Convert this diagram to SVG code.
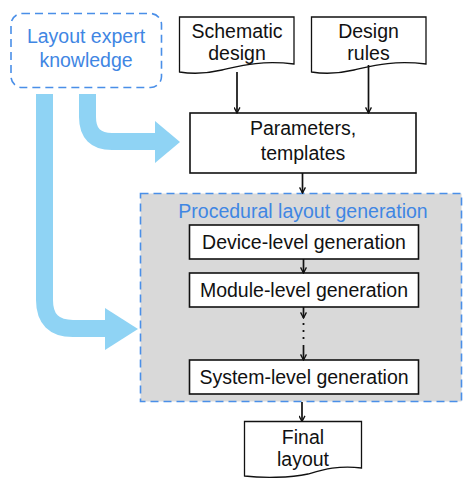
<svg xmlns="http://www.w3.org/2000/svg" width="463" height="478" viewBox="0 0 463 478">
<defs>
<style>
.t{font-family:"Liberation Sans",Arial,sans-serif;font-size:19.5px;fill:#111;text-anchor:middle}
.b{fill:#3f86e3}
.box{fill:#fff;stroke:#111;stroke-width:1.6}
.doc{fill:#fff;stroke:#111;stroke-width:1.3}
.dash{stroke:#4a8fe8;stroke-width:1.6;stroke-dasharray:8 5}
.con{stroke:#111;stroke-width:1.7;fill:none;marker-end:url(#ah)}
.big{stroke:#8fd3f4;stroke-width:17;fill:none}
.bighead{fill:#8fd3f4}
</style>
<marker id="ah" viewBox="0 0 10 10" refX="9" refY="5" markerWidth="7" markerHeight="7" orient="auto" markerUnits="userSpaceOnUse">
<path d="M1,0.8 L9,5 L1,9.2" fill="none" stroke="#111" stroke-width="1.9"/>
</marker>
</defs>

<g id="knowledge">
<rect x="11" y="13.5" width="150.5" height="74" rx="11" fill="#fff" class="dash"/>
<text class="t b" x="86" y="43">Layout expert</text>
<text class="t b" x="86" y="67">knowledge</text>
</g>

<g id="schematic">
<path class="doc" d="M179.5,17 H294 V64 C260,60 240,66 222,70 C205,74 192,74 179.5,72 Z"/>
<text class="t" x="237" y="38">Schematic</text>
<text class="t" x="237" y="60">design</text>
</g>

<g id="rules">
<path class="doc" d="M311.5,17 H426 V64 C392,60 372,66 354,70 C337,74 324,74 311.5,72 Z"/>
<text class="t" x="368.5" y="38">Design</text>
<text class="t" x="368.5" y="60">rules</text>
</g>

<g id="params">
<rect class="box" x="190" y="113" width="226" height="60"/>
<text class="t" x="303" y="135">Parameters,</text>
<text class="t" x="303" y="160">templates</text>
</g>

<g id="procedural">
<rect x="140.5" y="193.5" width="321" height="208" fill="#d9d9d9" class="dash"/>
<text class="t b" x="303" y="217.5">Procedural layout generation</text>
</g>

<g id="device">
<rect class="box" x="189.5" y="225" width="229" height="34"/>
<text class="t" x="304" y="248.5">Device-level generation</text>
</g>

<g id="module">
<rect class="box" x="189.5" y="273" width="229" height="34"/>
<text class="t" x="304" y="297">Module-level generation</text>
</g>

<g id="system">
<rect class="box" x="189.5" y="360" width="229" height="34"/>
<text class="t" x="304" y="384">System-level generation</text>
</g>

<g id="final">
<path class="doc" d="M244.5,421.5 H361.5 V468 C338,465 322,470 308,474 C290,478 262,478 244.5,476 Z"/>
<text class="t" x="303" y="443.5">Final</text>
<text class="t" x="303" y="466">layout</text>
</g>

<g id="connectors">
<line class="con" x1="237" y1="72" x2="237" y2="113"/>
<line class="con" x1="368.5" y1="65" x2="368.5" y2="113"/>
<line class="con" x1="302.5" y1="173" x2="302.5" y2="193"/>
<line class="con" x1="303.5" y1="259" x2="303.5" y2="273"/>
<line class="con" x1="303.5" y1="307" x2="303.5" y2="318"/>
<line x1="303.5" y1="323" x2="303.5" y2="341" stroke="#111" stroke-width="1.8" stroke-dasharray="2 5"/>
<line class="con" x1="303.5" y1="345" x2="303.5" y2="360"/>
<line class="con" x1="302" y1="402" x2="302" y2="421.5"/>
<path class="big" d="M44.5,94 V300 Q44.5,328.5 73,328.5 H106"/>
<polygon class="bighead" points="105,308 138,329 105,350"/>
<path class="big" d="M87.5,94 V117 Q87.5,141.5 112,141.5 H156"/>
<polygon class="bighead" points="155,121 180,142 155,163"/>
</g>
</svg>
